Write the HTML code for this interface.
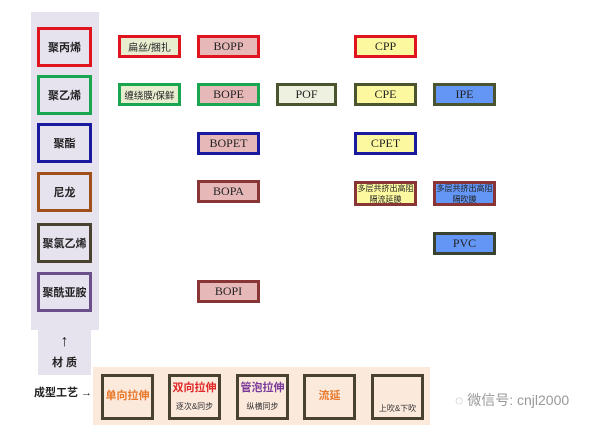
<!DOCTYPE html>
<html><head><meta charset="utf-8"><style>
body{margin:0;width:611px;height:427px;background:#fff;position:relative;overflow:hidden;font-family:"Liberation Serif","Noto Serif CJK SC",serif}
.a{position:absolute;box-sizing:border-box;display:flex;align-items:center;justify-content:center;text-align:center;color:#222;white-space:nowrap}
.m{left:37px;width:55px;height:40px;border:3px solid;background:#e6e2ee;font-size:11px;font-weight:bold;font-family:"Liberation Sans","Noto Sans CJK SC",sans-serif}
.s{width:63px;height:23px;border:3px solid;font-size:12px}
.c{font-family:"Liberation Sans","Noto Sans CJK SC",sans-serif;font-size:10px}
.t{font-size:8px;line-height:11px;font-family:"Liberation Sans","Noto Sans CJK SC",sans-serif;white-space:normal}
.b{top:374px;width:53px;height:46px;border:3px solid #4a4230;background:#fbe9dc;flex-direction:column;font-family:"Liberation Sans","Noto Sans CJK SC",sans-serif;font-weight:bold;font-size:11px;padding-bottom:4px}
.b small{font-weight:normal;font-size:8px;color:#333;margin-top:6px}
</style></head><body>
<div class="a" style="left:31px;top:12px;width:68px;height:318px;background:#e6e2ee"></div>
<div class="a" style="left:38px;top:330px;width:53px;height:45px;background:#e6e2ee"></div>
<div class="a m" style="top:27px;border-color:#e0141e">聚丙烯</div>
<div class="a m" style="top:75px;border-color:#1aa550">聚乙烯</div>
<div class="a m" style="top:123px;border-color:#1a1aa0">聚酯</div>
<div class="a m" style="top:172px;border-color:#a0501a">尼龙</div>
<div class="a m" style="top:223px;border-color:#4a4230">聚氯乙烯</div>
<div class="a m" style="top:272px;border-color:#6a4f8a">聚酰亚胺</div>
<div class="a" style="left:38px;top:332px;width:53px;height:20px;font-size:16px">↑</div>
<div class="a" style="left:38px;top:354px;width:53px;height:16px;font-size:11px;font-weight:bold;font-family:'Liberation Sans','Noto Sans CJK SC',sans-serif">材&nbsp;质</div>

<div class="a s c" style="left:118px;top:35px;border-color:#e0141e;background:#e8edd0">扁丝/捆扎</div>
<div class="a s c" style="left:118px;top:83px;border-color:#1aa550;background:#e8edd0;font-size:9.5px">缠绕膜/保鲜</div>
<div class="a s" style="left:197px;top:35px;border-color:#e0141e;background:#e6b8b8">BOPP</div>
<div class="a s" style="left:197px;top:83px;border-color:#1aa550;background:#e6b8b8">BOPE</div>
<div class="a s" style="left:197px;top:132px;border-color:#1a1aa0;background:#e6b8b8">BOPET</div>
<div class="a s" style="left:197px;top:180px;border-color:#8a3535;background:#e6b8b8">BOPA</div>
<div class="a s" style="left:197px;top:280px;border-color:#8a3535;background:#e6b8b8">BOPI</div>
<div class="a s" style="left:276px;top:83px;width:61px;border-color:#4a5530;background:#eef0e0">POF</div>
<div class="a s" style="left:354px;top:35px;border-color:#e0141e;background:#fcf8a0">CPP</div>
<div class="a s" style="left:354px;top:83px;border-color:#4a5530;background:#fcf8a0">CPE</div>
<div class="a s" style="left:354px;top:132px;border-color:#1a1aa0;background:#fcf8a0">CPET</div>
<div class="a s t" style="left:354px;top:181px;height:25px;border-color:#8a3535;background:#fcf8a0">多层共挤出高阻<br>隔流延膜</div>
<div class="a s" style="left:433px;top:83px;border-color:#4a5530;background:#6496f5">IPE</div>
<div class="a s t" style="left:433px;top:181px;height:25px;border-color:#8a3535;background:#6496f5">多层共挤出高阻<br>隔吹膜</div>
<div class="a s" style="left:433px;top:232px;border-color:#3a4230;background:#6496f5">PVC</div>

<div class="a" style="left:93px;top:367px;width:337px;height:58px;background:#fbe9dc"></div>
<div class="a" style="left:30px;top:383px;width:66px;height:18px;font-size:11px;font-weight:bold;font-family:'Liberation Sans','Noto Sans CJK SC',sans-serif">成型工艺 →</div>
<div class="a b" style="left:101px;color:#e8782a">单向拉伸</div>
<div class="a b" style="left:168px;color:#e02828">双向拉伸<small>逐次&amp;同步</small></div>
<div class="a b" style="left:236px;color:#7a3a9a">管泡拉伸<small>纵横同步</small></div>
<div class="a b" style="left:303px;color:#e8782a">流延</div>
<div class="a b" style="left:371px;color:#333"><small style="margin-top:26px">上吹&amp;下吹</small></div>
<div class="a" style="left:455px;top:390px;width:156px;height:20px;font-size:14px;color:#999;font-family:'Liberation Sans','Noto Sans CJK SC',sans-serif;justify-content:flex-start">◌ 微信号: cnjl2000</div>
</body></html>
